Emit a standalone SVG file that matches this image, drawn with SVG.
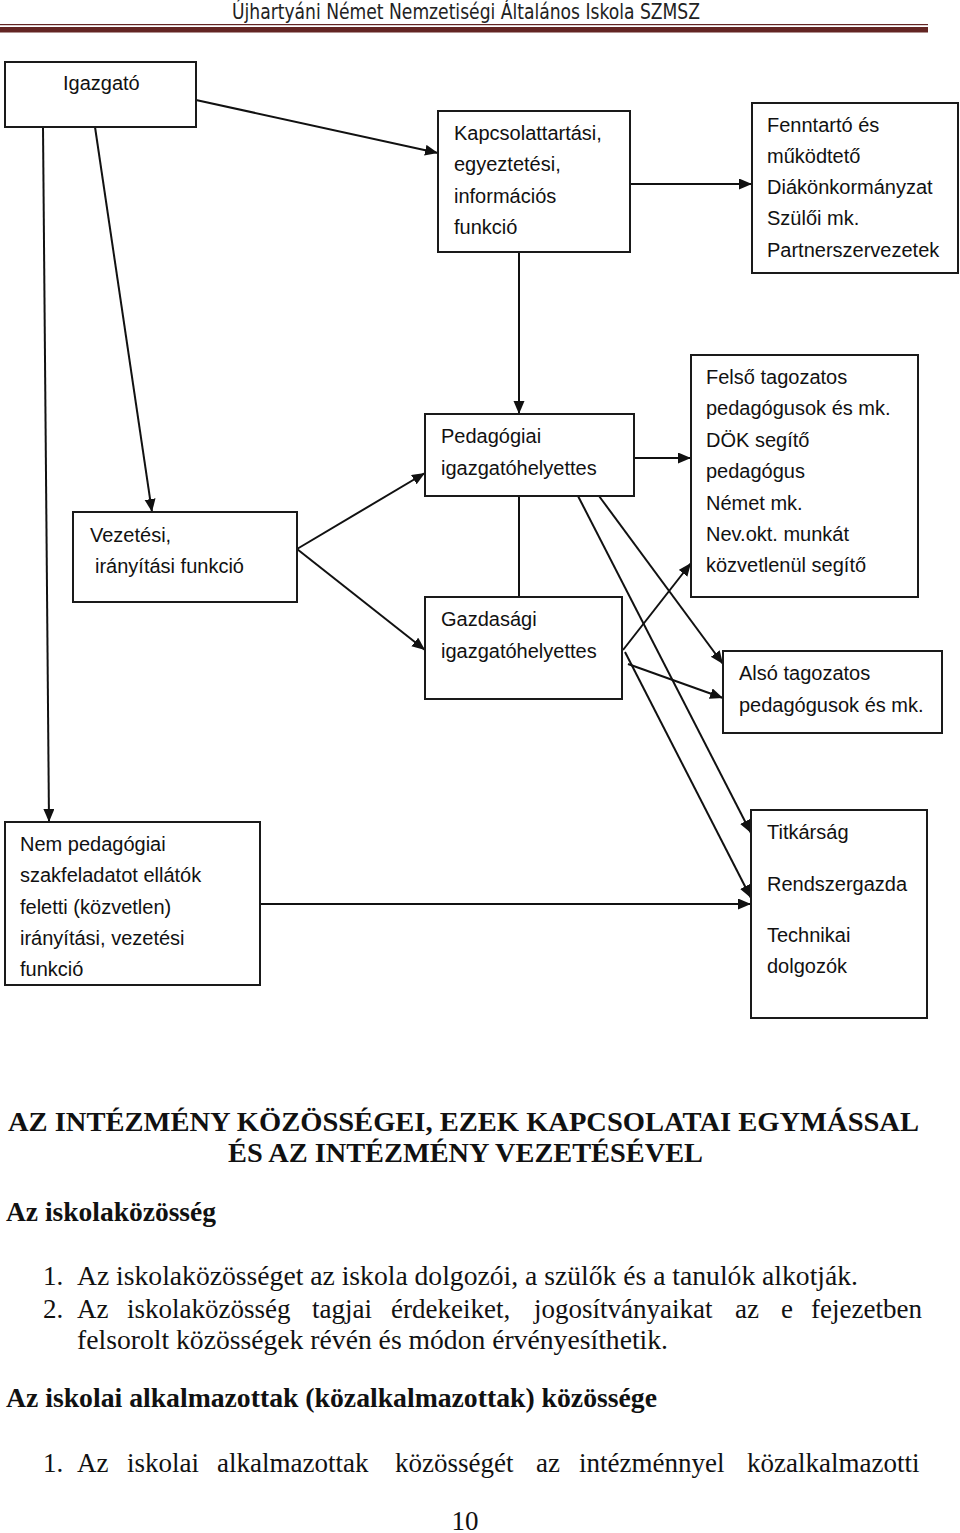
<svg xmlns="http://www.w3.org/2000/svg" width="960" height="1533" viewBox="0 0 960 1533">
<style>
.bx{fill:#fff;stroke:#1a1a1a;stroke-width:2}
.t{font-family:"Liberation Sans",Arial,sans-serif;font-size:20px;fill:#111}
.c{fill:none;stroke:#111;stroke-width:2}
.s{font-family:"Liberation Serif","Times New Roman",serif;font-size:27px;fill:#111}
.b{font-weight:bold}
.hd{font-family:"Liberation Sans Narrow","DejaVu Sans Condensed",sans-serif;font-size:21px;fill:#222}
</style>
<defs>
<marker id="ah" markerUnits="userSpaceOnUse" markerWidth="14" markerHeight="12" refX="13" refY="5.5" orient="auto">
<path d="M0,0 L13,5.5 L0,11 z" fill="#111"/>
</marker>
</defs>
<rect width="960" height="1533" fill="#fff"/>

<g id="header">
<text class="hd" x="232" y="19" textLength="468" lengthAdjust="spacingAndGlyphs">Újhartyáni Német Nemzetiségi Általános Iskola SZMSZ</text>
<rect x="0" y="24" width="928" height="1.2" fill="#632523"/>
<rect x="0" y="27" width="928" height="5.5" fill="#632523"/>
</g>

<g id="connectors">
<line class="c" x1="196" y1="100" x2="438" y2="153" marker-end="url(#ah)"/>
<line class="c" x1="630" y1="184" x2="752" y2="184" marker-end="url(#ah)"/>
<line class="c" x1="519" y1="252" x2="519" y2="414" marker-end="url(#ah)"/>
<line class="c" x1="95" y1="127" x2="152" y2="512" marker-end="url(#ah)"/>
<line class="c" x1="43" y1="127" x2="49" y2="822" marker-end="url(#ah)"/>
<line class="c" x1="297" y1="549" x2="425" y2="473" marker-end="url(#ah)"/>
<line class="c" x1="297" y1="549" x2="425" y2="650" marker-end="url(#ah)"/>
<line class="c" x1="634" y1="458" x2="691" y2="458" marker-end="url(#ah)"/>
<line class="c" x1="519" y1="496" x2="519" y2="597"/>
<line class="c" x1="578" y1="496" x2="751" y2="833" marker-end="url(#ah)"/>
<line class="c" x1="599" y1="496" x2="723" y2="664" marker-end="url(#ah)"/>
<line class="c" x1="623" y1="650" x2="691" y2="563" marker-end="url(#ah)"/>
<line class="c" x1="625" y1="652" x2="751" y2="898" marker-end="url(#ah)"/>
<line class="c" x1="628" y1="664" x2="723" y2="698" marker-end="url(#ah)"/>
<line class="c" x1="260" y1="904" x2="751" y2="904" marker-end="url(#ah)"/>
</g>

<g id="igazgato">
<rect class="bx" x="5" y="62" width="191" height="65"/>
<text class="t" x="63" y="90">Igazgató</text>
</g>

<g id="kapcsolattartasi">
<rect class="bx" x="438" y="111" width="192" height="141"/>
<text class="t" x="454" y="140">Kapcsolattartási,</text>
<text class="t" x="454" y="171">egyeztetési,</text>
<text class="t" x="454" y="203">információs</text>
<text class="t" x="454" y="234">funkció</text>
</g>

<g id="fenntarto">
<rect class="bx" x="752" y="103" width="206" height="170"/>
<text class="t" x="767" y="132">Fenntartó és</text>
<text class="t" x="767" y="163">működtető</text>
<text class="t" x="767" y="194">Diákönkormányzat</text>
<text class="t" x="767" y="225">Szülői mk.</text>
<text class="t" x="767" y="257">Partnerszervezetek</text>
</g>

<g id="felso">
<rect class="bx" x="691" y="355" width="227" height="242"/>
<text class="t" x="706" y="384">Felső tagozatos</text>
<text class="t" x="706" y="415">pedagógusok és mk.</text>
<text class="t" x="706" y="447">DÖK segítő</text>
<text class="t" x="706" y="478">pedagógus</text>
<text class="t" x="706" y="510">Német mk.</text>
<text class="t" x="706" y="541">Nev.okt. munkát</text>
<text class="t" x="706" y="572">közvetlenül segítő</text>
</g>

<g id="pedagogiai">
<rect class="bx" x="425" y="414" width="209" height="82"/>
<text class="t" x="441" y="443">Pedagógiai</text>
<text class="t" x="441" y="475">igazgatóhelyettes</text>
</g>

<g id="vezetesi">
<rect class="bx" x="73" y="512" width="224" height="90"/>
<text class="t" x="90" y="542">Vezetési,</text>
<text class="t" x="95" y="573">irányítási funkció</text>
</g>

<g id="gazdasagi">
<rect class="bx" x="425" y="597" width="197" height="102"/>
<text class="t" x="441" y="626">Gazdasági</text>
<text class="t" x="441" y="658">igazgatóhelyettes</text>
</g>

<g id="also">
<rect class="bx" x="723" y="651" width="219" height="82"/>
<text class="t" x="739" y="680">Alsó tagozatos</text>
<text class="t" x="739" y="712">pedagógusok és mk.</text>
</g>

<g id="nempedagogiai">
<rect class="bx" x="5" y="822" width="255" height="163"/>
<text class="t" x="20" y="851">Nem pedagógiai</text>
<text class="t" x="20" y="882">szakfeladatot ellátók</text>
<text class="t" x="20" y="914">feletti (közvetlen)</text>
<text class="t" x="20" y="945">irányítási, vezetési</text>
<text class="t" x="20" y="976">funkció</text>
</g>

<g id="titkarsag">
<rect class="bx" x="751" y="810" width="176" height="208"/>
<text class="t" x="767" y="839">Titkárság</text>
<text class="t" x="767" y="891">Rendszergazda</text>
<text class="t" x="767" y="942">Technikai</text>
<text class="t" x="767" y="973">dolgozók</text>
</g>

<g id="bodytext">
<text class="s b" x="8" y="1131" font-size="27" textLength="911" lengthAdjust="spacingAndGlyphs">AZ INTÉZMÉNY KÖZÖSSÉGEI, EZEK KAPCSOLATAI EGYMÁSSAL</text>
<text class="s b" x="228" y="1162" font-size="27" textLength="475" lengthAdjust="spacingAndGlyphs">ÉS AZ INTÉZMÉNY VEZETÉSÉVEL</text>
<text class="s b" x="6" y="1221" textLength="210" lengthAdjust="spacingAndGlyphs">Az iskolaközösség</text>
<text class="s" x="43" y="1285">1.</text>
<text class="s" x="77" y="1285" textLength="781" lengthAdjust="spacingAndGlyphs">Az iskolaközösséget az iskola dolgozói, a szülők és a tanulók alkotják.</text>
<text class="s" x="43" y="1318">2.</text>
<text class="s" y="1318"><tspan x="77">Az</tspan><tspan x="127">iskolaközösség</tspan><tspan x="312">tagjai</tspan><tspan x="391">érdekeiket,</tspan><tspan x="534">jogosítványaikat</tspan><tspan x="735">az</tspan><tspan x="781">e</tspan><tspan x="811">fejezetben</tspan></text>
<text class="s" x="77" y="1349" textLength="591" lengthAdjust="spacingAndGlyphs">felsorolt közösségek révén és módon érvényesíthetik.</text>
<text class="s b" x="6" y="1407" textLength="651" lengthAdjust="spacingAndGlyphs">Az iskolai alkalmazottak (közalkalmazottak) közössége</text>
<text class="s" x="43" y="1472">1.</text>
<text class="s" y="1472"><tspan x="77">Az</tspan><tspan x="127">iskolai</tspan><tspan x="217">alkalmazottak</tspan><tspan x="395">közösségét</tspan><tspan x="536">az</tspan><tspan x="579">intézménnyel</tspan><tspan x="747">közalkalmazotti</tspan></text>
<text class="s" x="465" y="1530" text-anchor="middle">10</text>
</g>
</svg>
